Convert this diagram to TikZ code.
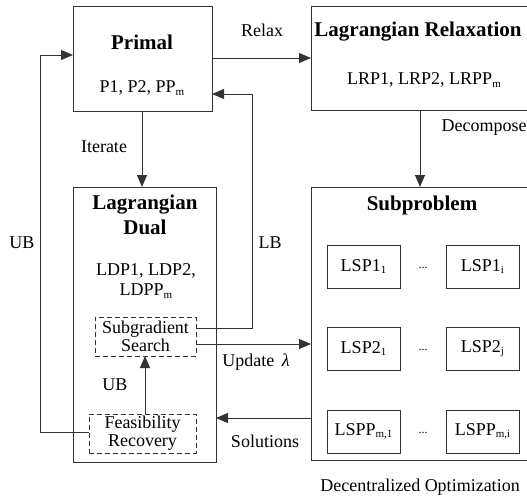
\documentclass[tikz,border=0pt]{standalone}
\usepackage{fontspec}
\setmainfont{Liberation Serif}
\usetikzlibrary{arrows.meta}
\newcommand\mysub[1]{\raisebox{-0.3ex}{\fontsize{11}{11}\selectfont #1}}
\tikzset{
  ln/.style={draw=black!80, line width=1pt},
  box/.style={ln, rectangle, inner sep=0pt},
  dbox/.style={ln, rectangle, inner sep=0pt, dash pattern=on 5pt off 3pt},
  txt/.style={inner sep=0pt, font=\fontsize{18}{21}\selectfont, align=center},
  ttl/.style={inner sep=0pt, font=\fontsize{21}{26}\selectfont\bfseries, align=center},
  arr/.style={ln, -{Triangle[length=12pt,width=10pt]}},
  lsp/.style={box, minimum width=73pt, minimum height=43pt, font=\fontsize{18}{21}\selectfont},
}
\begin{document}
\begin{tikzpicture}[x=1pt,y=-1pt]
\useasboundingbox (0,0) rectangle (527,498);
\clip (0,0) rectangle (527,498);
% main boxes
\node[box, minimum width=139pt, minimum height=105pt] (primal) at (142.5,58.5) {};
\node[box, minimum width=229pt, minimum height=104pt] (lr) at (425.5,58) {};
\node[box, minimum width=143pt, minimum height=275pt] (ld) at (144.5,324.5) {};
\node[box, minimum width=229pt, minimum height=273pt] (sp) at (425.5,323.5) {};
% texts in boxes
\node[ttl] (tprimal) at (142,42) {Primal};
\node[txt] (sprimal) at (142,88) {P1, P2, PP\mysub{m}};
\node[ttl] (tlr) at (418,32) {Lagrangian Relaxation};
\node[txt] (slr) at (424,80) {LRP1, LRP2, LRPP\mysub{m}};
\node[ttl] (tld) at (145,215) {Lagrangian\\[-1pt]Dual};
\node[txt] (sld) at (146,281) {LDP1, LDP2,\\[-1pt]LDPP\mysub{m}};
\node[ttl] (tsp) at (422,205) {Subproblem};
% dashed boxes
\node[dbox, minimum width=101pt, minimum height=39pt] (sg) at (145.5,336.5) {};
\node[txt] at (sg) {Subgradient\\[-3pt]Search};
\node[dbox, minimum width=107pt, minimum height=39pt] (fr) at (142.5,433.5) {};
\node[txt] at (fr) {Feasibility\\[-3pt]Recovery};
% LSP boxes
\node[lsp] (a1) at (363.5,266.5) {LSP1\mysub{1}};
\node[lsp] (a2) at (482.5,266.5) {LSP1\mysub{i}};
\node[lsp] (b1) at (363.5,348.5) {LSP2\mysub{1}};
\node[lsp] (b2) at (482.5,348.5) {LSP2\mysub{j}};
\node[lsp] (c1) at (363.5,431.5) {LSPP\mysub{m,1}};
\node[lsp] (c2) at (482.5,431.5) {LSPP\mysub{m,i}};
\node[txt, font=\fontsize{12}{12}\selectfont] (d1) at (423,268) {...};
\node[txt, font=\fontsize{12}{12}\selectfont] (d2) at (423,350) {...};
\node[txt, font=\fontsize{12}{12}\selectfont] (d3) at (423,433) {...};
\node[txt] (dec) at (420,487) {Decentralized Optimization};
% coordinates
\coordinate (relaxA) at (212,58);
\coordinate (relaxB) at (311,58);
\coordinate (decA) at (420,110);
\coordinate (decB) at (420,187);
\coordinate (itA) at (142,111);
\coordinate (itB) at (142,187);
\coordinate (ubA) at (89,432);
\coordinate (ubB) at (40,432);
\coordinate (ubC) at (40,55);
\coordinate (ubD) at (73,55);
\coordinate (lbA) at (196,328);
\coordinate (lbB) at (252,328);
\coordinate (lbC) at (252,94);
\coordinate (lbD) at (212,94);
\coordinate (upA) at (196,344);
\coordinate (upB) at (311,344);
\coordinate (soA) at (311,418);
\coordinate (soB) at (216,418);
\coordinate (uiA) at (145,414);
\coordinate (uiB) at (145,356);
% connectors
\draw[arr] (relaxA) -- (relaxB);
\draw[arr] (decA) -- (decB);
\draw[arr] (itA) -- (itB);
\draw[arr] (ubA) -- (ubB) -- (ubC) -- (ubD);
\draw[arr] (lbA) -- (lbB) -- (lbC) -- (lbD);
\draw[arr] (upA) -- (upB);
\draw[arr] (soA) -- (soB);
\draw[arr] (uiA) -- (uiB);
% labels
\node[txt] (lrelax) at (262,30) {Relax};
\node[txt] (ldec) at (484,128) {Decompose};
\node[txt] (lit) at (104,147) {Iterate};
\node[txt] (lub) at (22,243) {UB};
\node[txt] (llb) at (270,243) {LB};
\node[txt] (lup) at (256,362) {Update \,{\itshape λ}};
\node[txt] (lso) at (265,441) {Solutions};
\node[txt] (lub2) at (115,385) {UB};
\end{tikzpicture}
\end{document}
